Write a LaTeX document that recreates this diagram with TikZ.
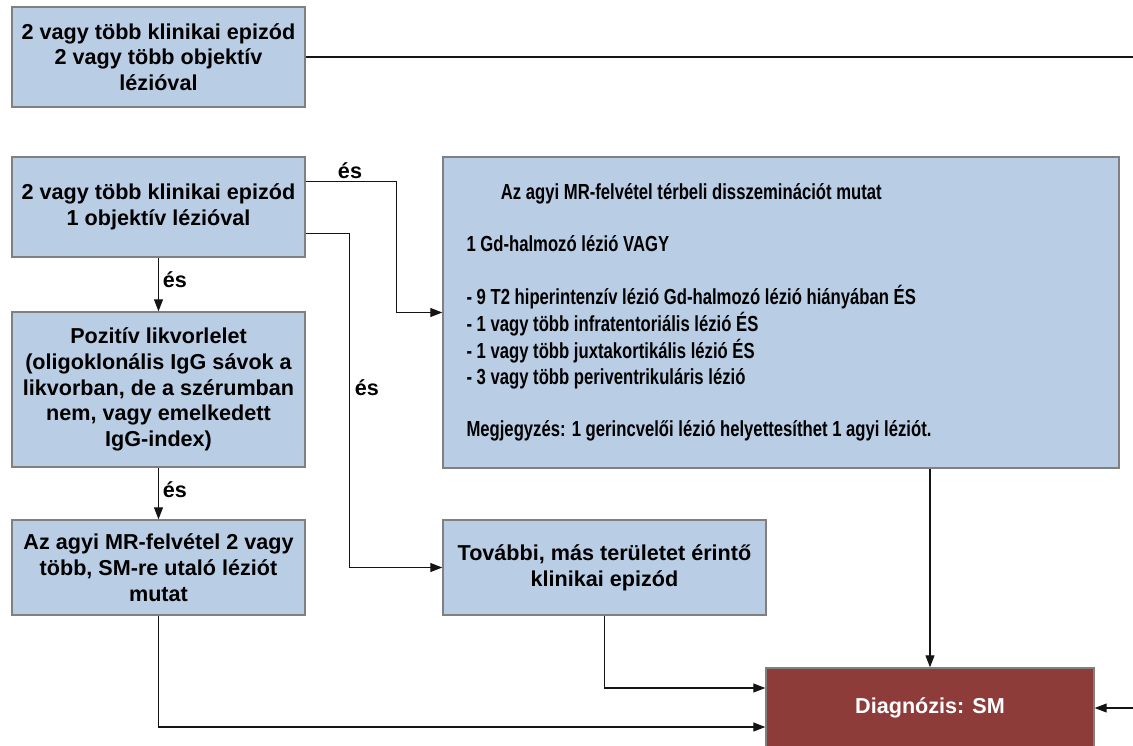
\documentclass[tikz,border=0pt]{standalone}
\usepackage{fontspec}
\usepackage{graphicx}
\setmainfont{Liberation Sans}
\usetikzlibrary{calc,arrows.meta}

\definecolor{boxfill}{RGB}{185,205,229}
\definecolor{boxline}{RGB}{128,128,128}
\definecolor{diagfill}{RGB}{142,60,57}
\definecolor{wire}{RGB}{20,20,20}

\tikzset{
  x=1pt, y=-1pt,
  stepbox/.style={draw=boxline, line width=1.4pt, fill=boxfill, inner sep=0pt,
    align=center, font=\bfseries\fontsize{21.6}{25.8}\selectfont},
  diagbox/.style={draw=boxline, line width=1.4pt, fill=diagfill, inner sep=0pt,
    text=white, font=\bfseries\fontsize{21.6}{25.8}\selectfont},
  link/.style={draw=wire, line width=1.1pt, -{Triangle[length=12pt,width=9pt]}},
  andlabel/.style={font=\bfseries\fontsize{21.6}{25.8}\selectfont, inner sep=0pt},
}

\begin{document}
\begin{tikzpicture}
\useasboundingbox (0,0) rectangle (1133,745);
\clip (0,0) rectangle (1133,745);

% criteria boxes, left column
\node[stepbox, minimum width=293, minimum height=100] (A) at (158.5,57)
  {2 vagy több klinikai epizód\\2 vagy több objektív\\lézióval};
\node[stepbox, minimum width=293, minimum height=100] (B) at (158.5,207)
  {2 vagy több klinikai epizód\\1 objektív lézióval};
\node[stepbox, minimum width=293, minimum height=155] (P) at (158.5,389.5)
  {Pozitív likvorlelet\\(oligoklonális IgG sávok a\\likvorban, de a szérumban\\nem, vagy emelkedett\\IgG-index)};
\node[stepbox, minimum width=293, minimum height=95] (M) at (158.5,567.5)
  {Az agyi MR-felvétel 2 vagy\\több, SM-re utaló léziót\\mutat};

% right column: box with condensed, left-aligned criteria list
\node[stepbox, minimum width=676, minimum height=311] (C) at (781,312.5) {};
\node[anchor=west, inner sep=0pt,
      font=\bfseries\fontsize{21.8}{25.9}\selectfont] (Ctxt) at ([xshift=24]C.west)
  {\scalebox{0.765}[1]{\begin{tabular}{@{}l@{}}
   \multicolumn{1}{@{}c@{\hspace{20pt}}}{Az agyi MR-felvétel térbeli disszeminációt mutat}\\[25.9pt]
   1 Gd-halmozó lézió VAGY\\[25.9pt]
   - 9 T2 hiperintenzív lézió Gd-halmozó lézió hiányában ÉS\\
   - 1 vagy több infratentoriális lézió ÉS\\
   - 1 vagy több juxtakortikális lézió ÉS\\
   - 3 vagy több periventrikuláris lézió\\[25.9pt]
   Megjegyzés: 1 gerincvelői lézió helyettesíthet 1 agyi léziót.
  \end{tabular}}};
\node[stepbox, minimum width=323, minimum height=95] (T) at (604.5,567.5)
  {További, más területet érintő\\klinikai epizód};

% diagnosis
\node[diagbox, minimum width=328, minimum height=80] (D) at (930,708) {Diagnózis: SM};

% connectors
\coordinate (B1) at ($(B.north east)!0.25!(B.south east)$);
\coordinate (B2) at ($(B.north east)!0.76!(B.south east)$);

\draw[link] (B1) -- ++(91,0) |- (C.west);
\node[andlabel] (l1) at (350,171) {és};

\draw[link] (B2) -- ++(44,0) |- (T.west);
\node[andlabel] (l2) at (367,388) {és};

\draw[link] (B.south) -- (P.north);
\node[andlabel] (l3) at (175,280) {és};

\draw[link] (P.south) -- (M.north);
\node[andlabel] (l4) at (175,490) {és};

\draw[link] (M.south) |- ([yshift=-19pt]D.west);
\draw[link] (T.south) |- ([yshift=20pt]D.west);
\draw[link] (C.south -| D.north) -- (D.north);
\draw[link] (A.east) -- ++(860,0) |- (D.east);
\end{tikzpicture}
\end{document}
